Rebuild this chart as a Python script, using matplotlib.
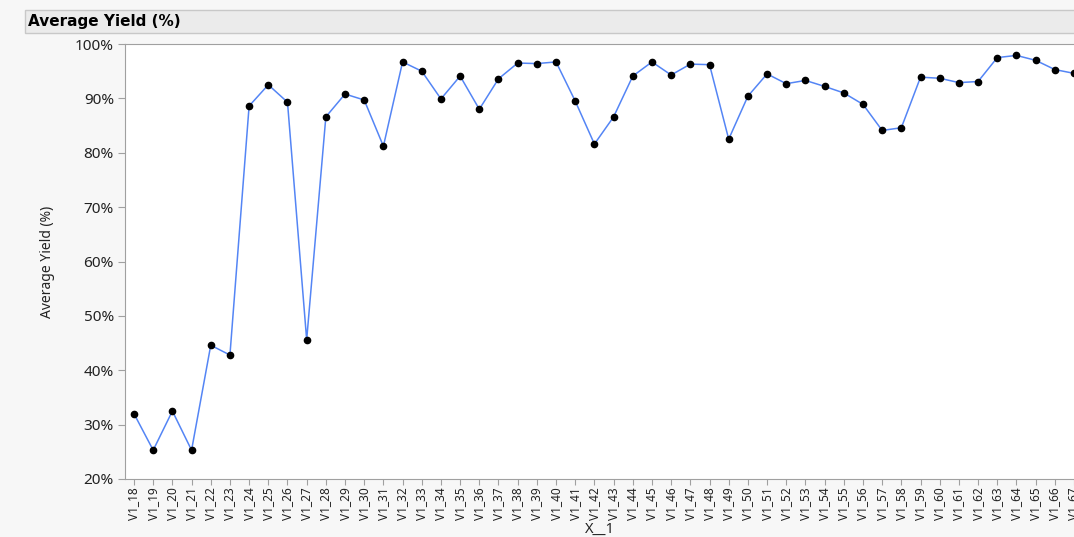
import matplotlib.pyplot as plt
from matplotlib.patches import Rectangle

# Data
batches = ['V1_%d' % n for n in range(18, 68)]
avg_yield = [32.0, 25.3, 32.5, 25.3, 44.6, 42.8, 88.6, 92.5, 89.3, 45.6,
             86.6, 90.8, 89.7, 81.2, 96.7, 95.0, 89.9, 94.1, 88.0, 93.6,
             96.5, 96.4, 96.7, 89.5, 81.6, 86.6, 94.1, 96.7, 94.3, 96.3,
             96.2, 82.5, 90.4, 94.5, 92.7, 93.3, 92.2, 91.0, 88.9, 84.1,
             84.6, 93.9, 93.7, 92.9, 93.1, 97.5, 97.9, 97.0, 95.3, 94.6]
y_ticks = [20, 30, 40, 50, 60, 70, 80, 90, 100]

plt.rcParams['font.family'] = ['Noto Sans', 'DejaVu Sans']

fig = plt.figure(figsize=(10.74, 5.37), dpi=100, facecolor='#f7f7f7')

# title bar
fig.patches.append(Rectangle((25 / 1074, 1 - 33 / 537), 1.0, 23 / 537,
                             transform=fig.transFigure, facecolor='#ebebeb',
                             edgecolor='#c8c8c8', linewidth=1))
fig.text(28 / 1074, 1 - 21.5 / 537, 'Average Yield (%)', fontsize=11,
         fontweight='bold', family='DejaVu Sans', va='center', ha='left',
         color='black')

ax = fig.add_axes([125 / 1074, 1 - 479 / 537, 1 - 125 / 1074, 435 / 537])
ax.set_facecolor('white')
x = list(range(len(batches)))
ax.plot(x, avg_yield, color='#5485f5', linewidth=1.1, marker='o',
        markersize=4.5, markerfacecolor='black', markeredgecolor='black',
        zorder=3)

ax.set_ylim(20, 100)
ax.set_yticks(y_ticks)
ax.set_yticklabels(['%d%%' % t for t in y_ticks])
ax.set_xlim(-0.47, 49.0)
ax.set_xticks(x)
ax.set_xticklabels(batches, rotation=90)

for side in ['left', 'bottom', 'top']:
    ax.spines[side].set_color('#a0a0a0')
ax.spines['right'].set_visible(False)
ax.tick_params(axis='y', direction='out', length=5, color='#a0a0a0',
               labelsize=11, pad=3, labelcolor='#222222')
ax.tick_params(axis='x', direction='out', length=4, color='#a0a0a0',
               labelsize=8.5, pad=2, labelcolor='#222222')

ax.set_ylabel('Average Yield (%)', fontsize=10, color='#222222', labelpad=14)
ax.set_xlabel('X__1', fontsize=10.5, color='#222222', labelpad=0)
ax.xaxis.set_label_coords((600 - 125) / (1074 - 125), -0.098)

fig.savefig('out.png', dpi=100, facecolor=fig.get_facecolor())
